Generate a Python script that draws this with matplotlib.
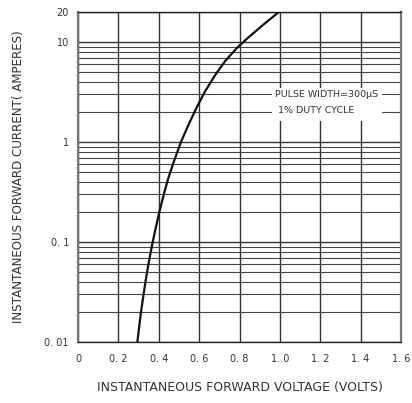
import matplotlib
matplotlib.use("Agg")
import matplotlib.pyplot as plt
from matplotlib.ticker import FixedLocator, LogLocator, NullFormatter
from matplotlib.patches import Rectangle

# (forward current in A, forward voltage in V)
current_a = [0.01, 0.02, 0.03, 0.04, 0.065, 0.1, 0.13, 0.2, 0.3, 0.42, 0.65,
             1.0, 1.5, 2.2, 3.2, 4.7, 6.5, 8.8, 11, 15, 20]
voltage_v = [0.294, 0.312, 0.325, 0.334, 0.352, 0.370, 0.382, 0.403, 0.425,
             0.445, 0.476, 0.510, 0.548, 0.587, 0.629, 0.680, 0.730, 0.789,
             0.841, 0.919, 0.995]

x_ticks = [0, 0.2, 0.4, 0.6, 0.8, 1.0, 1.2, 1.4, 1.6]
x_tick_labels = ["0", "0. 2", "0. 4", "0. 6", "0. 8", "1. 0", "1. 2", "1. 4", "1. 6"]
y_ticks = [0.01, 0.1, 1, 10, 20]
y_tick_labels = ["0. 01", "0. 1", "1", "10", "20"]

note_lines = ["PULSE WIDTH=300\u03bcS", "1% DUTY CYCLE"]

plt.rcParams['font.family'] = ['DejaVu Sans']
fig = plt.figure(figsize=(4.12, 4.03), dpi=100)
ax = fig.add_axes([78/412, 1-342/403, (401-78)/412, (342-12)/403])

ax.set_yscale('log')
ax.set_xlim(0, 1.6)
ax.set_ylim(0.01, 20)

txt_col = '#333333'
ax.xaxis.set_major_locator(FixedLocator(x_ticks))
ax.set_xticklabels(x_tick_labels)
ax.yaxis.set_major_locator(FixedLocator(y_ticks))
ax.set_yticklabels(y_tick_labels)
ax.yaxis.set_minor_locator(LogLocator(base=10, subs=[2, 3, 4, 5, 6, 7, 8, 9]))
ax.yaxis.set_minor_formatter(NullFormatter())

ax.grid(True, which='major', axis='both', color='#333333', lw=1.0)
ax.grid(True, which='minor', axis='y', color='#444444', lw=0.8)
ax.set_axisbelow(True)

ax.tick_params(axis='both', which='both', length=0, labelsize=7, colors=txt_col)
ax.tick_params(axis='x', pad=9)
ax.tick_params(axis='y', pad=6.5)

for side in ['left', 'right']:
    ax.spines[side].set_color('#777777')
    ax.spines[side].set_linewidth(1.6)
for side in ['top', 'bottom']:
    ax.spines[side].set_color('#222222')
    ax.spines[side].set_linewidth(1.0)

ax.plot(voltage_v, current_a, color='#111111', lw=1.6, zorder=5,
        solid_joinstyle='round')

# white box behind the note (covers the grid)
ax.add_patch(Rectangle((0.963, 1.63), 1.508 - 0.963, 3.49 - 1.63,
                       facecolor='white', edgecolor='none', zorder=3))
ax.text(0.977, 3.02, note_lines[0], fontsize=6.8, color=txt_col,
        ha='left', va='center', zorder=6)
ax.text(0.99, 2.05, note_lines[1], fontsize=6.8, color=txt_col,
        ha='left', va='center', zorder=6)

ax.set_xlabel("INSTANTANEOUS FORWARD VOLTAGE (VOLTS)", fontsize=9.0,
              color=txt_col, labelpad=12)
ax.set_ylabel("INSTANTANEOUS FORWARD CURRENT( AMPERES)", fontsize=8.6,
              color=txt_col, labelpad=14)

fig.savefig("out.png", dpi=100)
